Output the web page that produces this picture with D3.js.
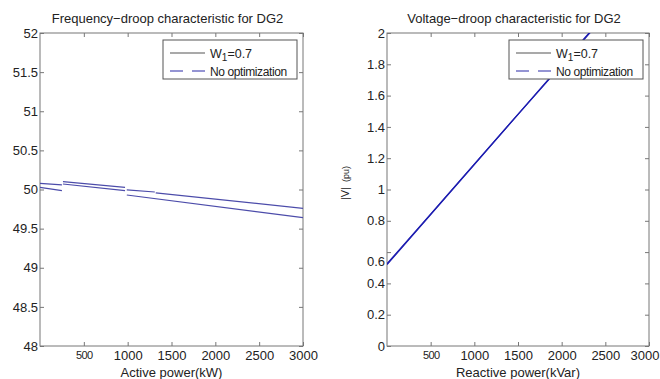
<!DOCTYPE html>
<html lang="en">
  <head>
    <meta charset="UTF-8" />
    <title>Droop characteristics for DG2</title>
    <script src="https://d3js.org/d3.v7.min.js"></script>
    <style>
      body { margin: 0; background: #fff; }
      text { font-family: "Liberation Sans", Arial, sans-serif; fill: #222; }
    </style>
  </head>
  <body></body>
  <script>
    // frequency droop, each line is a list of segments [kW, Hz]
    var freqW1 = [
      [[0, 50.079], [250, 50.058]],
      [[262, 50.1], [970, 50.028]],
      [[990, 49.996], [1310, 49.968]],
      [[1320, 49.957], [3000, 49.76]]
    ];
    var freqNoOpt = [
      [[0, 50.028], [250, 49.985]],
      [[262, 50.07], [970, 49.985]],
      [[990, 49.93], [3000, 49.64]]
    ];
    var freqXTicks = [500, 1000, 1500, 2000, 2500, 3000];
    var freqYTicks = [48, 48.5, 49, 49.5, 50, 50.5, 51, 51.5, 52];

    // voltage droop [kVar, pu]
    var voltW1 = [[0, 0.52], [500, 0.84], [1000, 1.16], [1500, 1.48], [2000, 1.795], [2400, 2.05]];
    var voltNoOpt = [[0, 0.525], [500, 0.843], [1000, 1.162], [1500, 1.48], [2000, 1.8], [2400, 2.055]];
    var voltXTicks = [500, 1000, 1500, 2000, 2500, 3000];
    var voltYTicks = [0, 0.2, 0.4, 0.6, 0.8, 1, 1.2, 1.4, 1.6, 1.8, 2];

    var legendLabels = ["W1=0.7", "No optimization"];

    var svg = d3.select("body").append("svg")
      .attr("width", 660)
      .attr("height", 379);

    function drawPanel(p) {
      var x = d3.scaleLinear().domain(p.xDomain).range([p.left, p.right]);
      var y = d3.scaleLinear().domain(p.yDomain).range([p.bottom, p.top]);
      var g = svg.append("g");

      g.append("clipPath").attr("id", p.id)
        .append("rect")
        .attr("x", p.left).attr("y", p.top)
        .attr("width", p.right - p.left).attr("height", p.bottom - p.top);

      // ticks on all four sides, pointing in
      var bottom = g.append("g")
        .attr("transform", "translate(0," + p.bottom + ")")
        .call(d3.axisBottom(x).tickValues(p.xTicks).tickSize(-4).tickPadding(5).tickFormat(d => d));
      var top = g.append("g")
        .attr("transform", "translate(0," + p.top + ")")
        .call(d3.axisTop(x).tickValues(p.xTicks).tickSize(-4).tickFormat(""));
      var left = g.append("g")
        .attr("transform", "translate(" + p.left + ",0)")
        .call(d3.axisLeft(y).tickValues(p.yTicks).tickSize(-4).tickPadding(2).tickFormat(d => d));
      var right = g.append("g")
        .attr("transform", "translate(" + p.right + ",0)")
        .call(d3.axisRight(y).tickValues(p.yTicks).tickSize(-4).tickFormat(""));

      [bottom, top, left, right].forEach(a => {
        a.select(".domain").remove();
        a.selectAll("line").attr("stroke", "#777");
        a.selectAll("text").attr("font-size", 13).attr("fill", "#222")
          .attr("font-family", "Liberation Sans, Arial, sans-serif");
      });
      // the 500 label is narrower in the original
      bottom.selectAll(".tick text").filter(d => d === 500)
        .attr("font-size", 11).attr("letter-spacing", -0.6);
      if (p.lastLabelEnd) {
        bottom.selectAll(".tick text").filter(d => d === 3000)
          .attr("text-anchor", "end").attr("x", p.lastLabelEnd - p.right);
      }
      if (p.shiftLabel) {
        left.selectAll(".tick text").filter(d => d === p.shiftLabel)
          .attr("transform", "translate(0,9)");
      }

      g.append("rect")
        .attr("x", p.left).attr("y", p.top)
        .attr("width", p.right - p.left).attr("height", p.bottom - p.top)
        .attr("fill", "none").attr("stroke", "#777");

      var line = d3.line().x(d => x(d[0])).y(d => y(d[1]));
      var lines = g.append("g").attr("clip-path", "url(#" + p.id + ")");
      p.series.forEach(s => {
        lines.selectAll(null)
          .data(s.segments)
          .join("path")
          .attr("d", line)
          .attr("fill", "none")
          .attr("stroke", p.lineColor)
          .attr("stroke-width", p.lineWidth);
      });

      // title and x label
      g.append("text")
        .attr("x", (p.left + p.right) / 2 - 4).attr("y", 23)
        .attr("text-anchor", "middle").attr("font-size", 13)
        .text(p.title);
      g.append("text")
        .attr("x", (p.left + p.right) / 2).attr("y", 377)
        .attr("text-anchor", "middle").attr("font-size", 13)
        .text(p.xLabel);

      // legend
      var lg = g.append("g").attr("transform", "translate(" + (p.right - 140) + ",40)");
      lg.append("rect").attr("width", 134).attr("height", 39)
        .attr("fill", "#fff").attr("stroke", "#555");
      lg.append("line").attr("x1", 7).attr("x2", 42).attr("y1", 13).attr("y2", 13)
        .attr("stroke", "#555").attr("stroke-width", 1.2);
      lg.append("line").attr("x1", 7).attr("x2", 42).attr("y1", 31).attr("y2", 31)
        .attr("stroke", "#2a2aa8").attr("stroke-width", 1.2).attr("stroke-dasharray", "13,9");
      var t1 = lg.append("text").attr("x", 47).attr("y", 18).attr("font-size", 12.5);
      t1.append("tspan").text(legendLabels[0].slice(0, 1));
      t1.append("tspan").attr("font-size", 10).attr("dy", 3).text(legendLabels[0].slice(1, 2));
      t1.append("tspan").attr("dy", -3).text(legendLabels[0].slice(2));
      lg.append("text").attr("x", 47).attr("y", 36).attr("font-size", 12)
        .attr("letter-spacing", -0.4)
        .text(legendLabels[1]);

      return g;
    }

    drawPanel({
      id: "clipF", left: 40, right: 303, top: 33, bottom: 346,
      xDomain: [0, 3000], yDomain: [48, 52],
      xTicks: freqXTicks, yTicks: freqYTicks,
      series: [{ segments: freqW1 }, { segments: freqNoOpt }],
      lineColor: "#4c4caa", lineWidth: 1.2,
      title: "Frequency\u2212droop characteristic for DG2",
      xLabel: "Active power(kW)"
    });

    var vg = drawPanel({
      id: "clipV", left: 387, right: 649, top: 33, bottom: 346,
      xDomain: [0, 3000], yDomain: [0, 2],
      xTicks: voltXTicks, yTicks: voltYTicks,
      series: [{ segments: [voltW1] }, { segments: [voltNoOpt] }],
      lineColor: "#1e1eb0", lineWidth: 1.3,
      shiftLabel: 0.6, lastLabelEnd: 659,
      title: "Voltage\u2212droop characteristic for DG2",
      xLabel: "Reactive power(kVar)"
    });

    // rotated y label |V| (pu)
    var yl = vg.append("text")
      .attr("transform", "translate(349,200) rotate(-90)")
      .attr("font-size", 11);
    yl.append("tspan").text("|V|");
    yl.append("tspan").attr("dx", 5).attr("font-size", 9).text("(pu)");
  </script>
</html>
